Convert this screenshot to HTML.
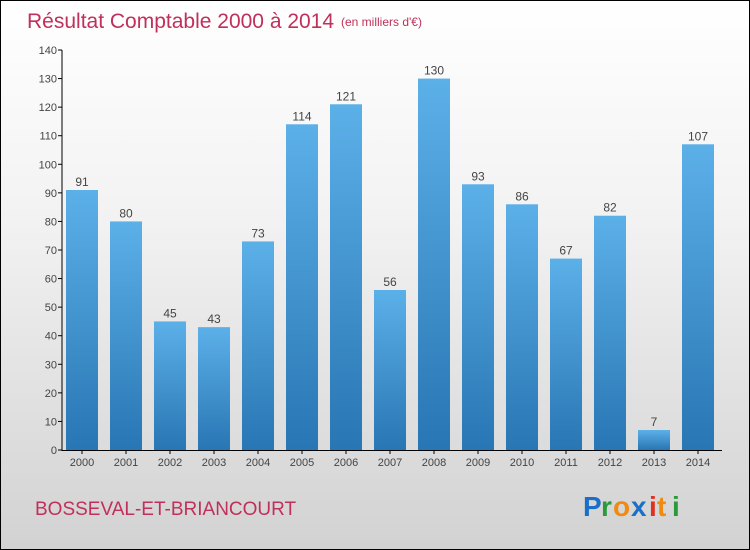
<!DOCTYPE html>
<html><head><meta charset="utf-8"><style>
body{margin:0}
#c{width:748px;height:548px;border:1px solid #000;background:linear-gradient(#ffffff,#f2f2f2 40%,#d2d2d2);position:relative;font-family:"Liberation Sans",sans-serif;overflow:hidden}
</style></head><body>
<div id="c">
<svg id="s" width="748" height="548" style="position:absolute;left:0;top:0">
<defs><linearGradient id="g" x1="0" y1="0" x2="0" y2="1"><stop offset="0" stop-color="#5cb0e8"/><stop offset="1" stop-color="#2876b4"/></linearGradient></defs>
<text x="26" y="27" font-size="21" fill="#c0305a">Résultat Comptable 2000 à 2014</text>
<text x="340" y="25" font-size="12" fill="#c0305a">(en milliers d'€)</text>
<text x="34" y="514" font-size="19" fill="#c0305a">BOSSEVAL-ET-BRIANCOURT</text>
<g font-size="28" font-weight="bold" font-family="'Liberation Sans',sans-serif">
<text x="582" y="515" fill="#1a6fc8">P</text><text x="600" y="515" fill="#2a9a3a">r</text><text x="612" y="515" fill="#f08a10">o</text><text x="630" y="515" fill="#1a6fc8">x</text><text x="648" y="515" fill="#e03020">i</text><text x="656" y="515" fill="#f08a10">t</text><text x="671" y="515" fill="#2a9a3a">i</text>
</g>
</svg>
</div>
<script>
const years=["2000","2001","2002","2003","2004","2005","2006","2007","2008","2009","2010","2011","2012","2013","2014"];
const values=[91,80,45,43,73,114,121,56,130,93,86,67,82,7,107];
const ticks=[0,10,20,30,40,50,60,70,80,90,100,110,120,130,140];
const s=document.getElementById('s'),NS='http://www.w3.org/2000/svg';
const y=v=>449-v*400/140, x=i=>81+i*44;
function mk(t,a,txt){const e=document.createElementNS(NS,t);for(const k in a)e.setAttribute(k,a[k]);if(txt!=null)e.textContent=txt;s.appendChild(e);return e;}
ticks.forEach(t=>{
const l=mk('line',{x1:57,x2:61,y1:y(t),y2:y(t),stroke:'#000'});


const tx=mk('text',{x:56,y:y(t)+4,'font-size':11,'text-anchor':'end',fill:'#444'},t);


});
values.forEach((v,i)=>{
const r=mk('rect',{x:x(i)-16,y:y(v),width:32,height:y(0)-y(v),fill:'url(#g)'});


const lb=mk('text',{x:x(i),y:y(v)-4,'font-size':12,'text-anchor':'middle',fill:'#444'},v);


const xl=mk('text',{x:x(i),y:465,'font-size':11,'text-anchor':'middle',fill:'#444'},years[i]);


const xt=mk('line',{x1:x(i),x2:x(i),y1:449,y2:453,stroke:'#000'});


});
const ya=mk('line',{x1:61,x2:61,y1:y(140),y2:450,stroke:'#000'});


const xa=mk('line',{x1:61,x2:721,y1:449.5,y2:449.5,stroke:'#000'});


</script>
</body></html>
